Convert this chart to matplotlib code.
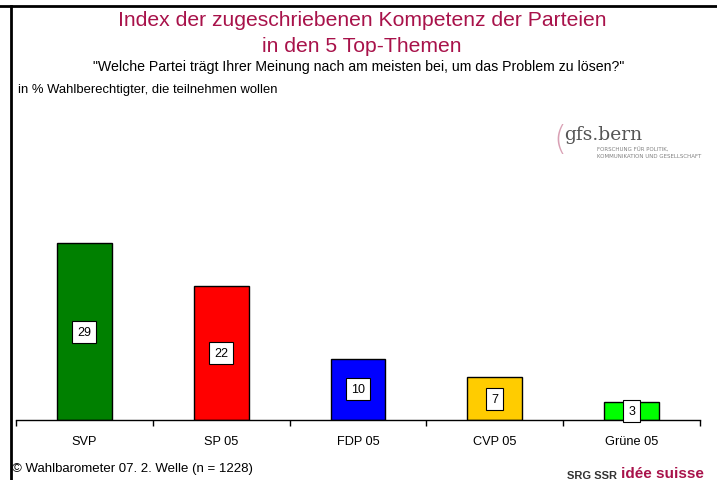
import matplotlib
matplotlib.use("Agg")
import matplotlib.pyplot as plt
from matplotlib.lines import Line2D

# data
parties = ["SVP", "SP 05", "FDP 05", "CVP 05", "Grüne 05"]
values = [29, 22, 10, 7, 3]
colors = ["#008000", "#FF0000", "#0000FF", "#FFCC00", "#00FF00"]

title_col = "#A8124A"
fam = ["Liberation Sans", "DejaVu Sans"]

fig = plt.figure(figsize=(7.17, 4.81), dpi=100)

# frame lines (top + left)
fig.add_artist(Line2D([0, 1], [1 - 6.5/481, 1 - 6.5/481], color="black", lw=2,
                      transform=fig.transFigure))
fig.add_artist(Line2D([11/717, 11/717], [0, 1 - 6.5/481], color="black", lw=2,
                      transform=fig.transFigure))

ax = fig.add_axes([16/717, 1 - 421/481, (700 - 16)/717, (421 - 111)/481])
x = range(len(parties))
ax.bar(x, values, width=0.4, color=colors, edgecolor="black", linewidth=1)
for xi, v in zip(x, values):
    ax.text(xi, v / 2, str(v), ha="center", va="center", fontsize=9,
            family=fam,
            bbox=dict(boxstyle="square,pad=0.4", fc="white", ec="black", lw=0.8))

ax.set_xlim(-0.5, len(parties) - 0.5)
ax.set_ylim(0, 50.8)
for s in ["top", "right", "left"]:
    ax.spines[s].set_visible(False)
ax.spines["bottom"].set_linewidth(1)
ax.set_yticks([])
ax.set_xticks([i - 0.5 for i in range(len(parties) + 1)])
ax.set_xticklabels([])
ax.set_xticks(list(x), minor=True)
ax.set_xticklabels(parties, minor=True, fontsize=9.2, family=fam)
ax.tick_params(axis="x", which="major", length=4, width=1, direction="out")
ax.tick_params(axis="x", which="minor", length=0, pad=11)

# titles
fig.text(362/717, 1 - 20/481, "Index der zugeschriebenen Kompetenz der Parteien",
         ha="center", va="center", fontsize=15.2, color=title_col, family=fam)
fig.text(362/717, 1 - 46/481, "in den 5 Top-Themen",
         ha="center", va="center", fontsize=15.2, color=title_col, family=fam)
fig.text(359/717, 1 - 67/481,
         "\"Welche Partei trägt Ihrer Meinung nach am meisten bei, um das Problem zu lösen?\"",
         ha="center", va="center", fontsize=10.2, family=fam)
fig.text(18/717, 1 - 90/481, "in % Wahlberechtigter, die teilnehmen wollen",
         ha="left", va="center", fontsize=9.4, family=fam)

# gfs.bern logo as text
fig.text(553/717, 1 - 140/481, "(", ha="left", va="center", fontsize=24,
         color="#D9A0B4", family="DejaVu Sans", weight="light")
fig.text(564/717, 1 - 135/481, "gfs.bern", ha="left", va="center", fontsize=13.5,
         color="#555555", family="DejaVu Serif")
fig.text(597/717, 1 - 153/481, "FORSCHUNG FÜR POLITIK,\nKOMMUNIKATION UND GESELLSCHAFT",
         ha="left", va="center", fontsize=4.0, color="#808080", linespacing=1.3)

# footer
fig.text(12/717, 1 - 469/481, "© Wahlbarometer 07. 2. Welle (n = 1228)",
         ha="left", va="center", fontsize=9.5, family=fam)
fig.text(617/717, 1 - 476/481, "SRG SSR", ha="right", va="center", fontsize=8,
         weight="bold", color="#333333", family=fam)
fig.text(621/717, 1 - 474/481, "idée suisse", ha="left", va="center", fontsize=11,
         weight="bold", color=title_col, family=fam)

fig.savefig("out.png", dpi=100)
